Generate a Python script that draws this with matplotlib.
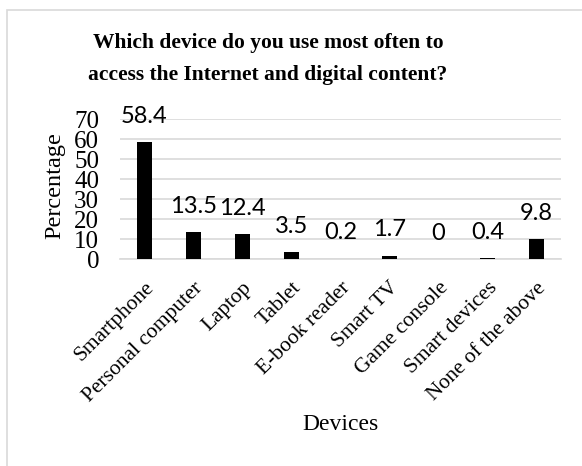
import matplotlib.pyplot as plt
from matplotlib.patches import Rectangle

devices = ["Smartphone", "Personal computer", "Laptop", "Tablet", "E-book reader",
           "Smart TV", "Game console", "Smart devices", "None of the above"]
percentages = [58.4, 13.5, 12.4, 3.5, 0.2, 1.7, 0, 0.4, 9.8]
value_labels = ["58.4", "13.5", "12.4", "3.5", "0.2", "1.7", "0", "0.4", "9.8"]
yticks = [0, 10, 20, 30, 40, 50, 60, 70]

serif = "Liberation Serif"
grid_grey = "#d9d9d9"

fig = plt.figure(figsize=(5.82, 4.66), dpi=100)
ax = fig.add_axes([120/582, 1 - 259/466, 441/582, 140/466])

# outer chart frame (runs off the right/bottom edge)
fig.patches.append(Rectangle((7/582, -0.2), 1.2, 1.2 - 10/466, transform=fig.transFigure,
                             fill=False, edgecolor=grid_grey, lw=1.2))

x = list(range(len(devices)))
ax.bar(x, percentages, width=0.31, color="black", zorder=3)

for xi, v, lab in zip(x, percentages, value_labels):
    ax.annotate(lab, (xi, v), xytext=(0, 14), textcoords="offset points",
                ha="center", va="baseline", fontsize=17, family="Lato")

ax.set_ylim(0, 70)
ax.set_xlim(-0.5, len(devices) - 0.5)
ax.set_yticks(yticks)
ax.set_yticklabels([str(t) for t in yticks], family=serif, fontsize=18)
ax.set_xticks(x)
ax.set_xticklabels(devices, rotation=45, ha="right", va="top", rotation_mode="anchor",
                   family=serif, fontsize=15.5)
ax.tick_params(length=0)
ax.tick_params(axis="y", pad=15)
ax.tick_params(axis="x", pad=14)
ax.yaxis.grid(True, color=grid_grey, lw=1.2, zorder=0)
for s in ["top", "right", "left"]:
    ax.spines[s].set_visible(False)
ax.spines["bottom"].set_color(grid_grey)
ax.spines["bottom"].set_linewidth(1.2)

fig.text(55/582, 1 - 186/466, "Percentage", rotation=90, ha="center", va="center",
         family=serif, fontsize=17.5)
fig.text(340/582, 1 - 425/466, "Devices", ha="center", va="center", family=serif, fontsize=17)

fig.text(268/582, 1 - 43/466, "Which device do you use most often to", ha="center", va="center",
         family=serif, fontsize=15.5, fontweight="bold")
fig.text(268/582, 1 - 75/466, "access the Internet and digital content?", ha="center", va="center",
         family=serif, fontsize=15.5, fontweight="bold")

fig.savefig("out.png", dpi=100)
